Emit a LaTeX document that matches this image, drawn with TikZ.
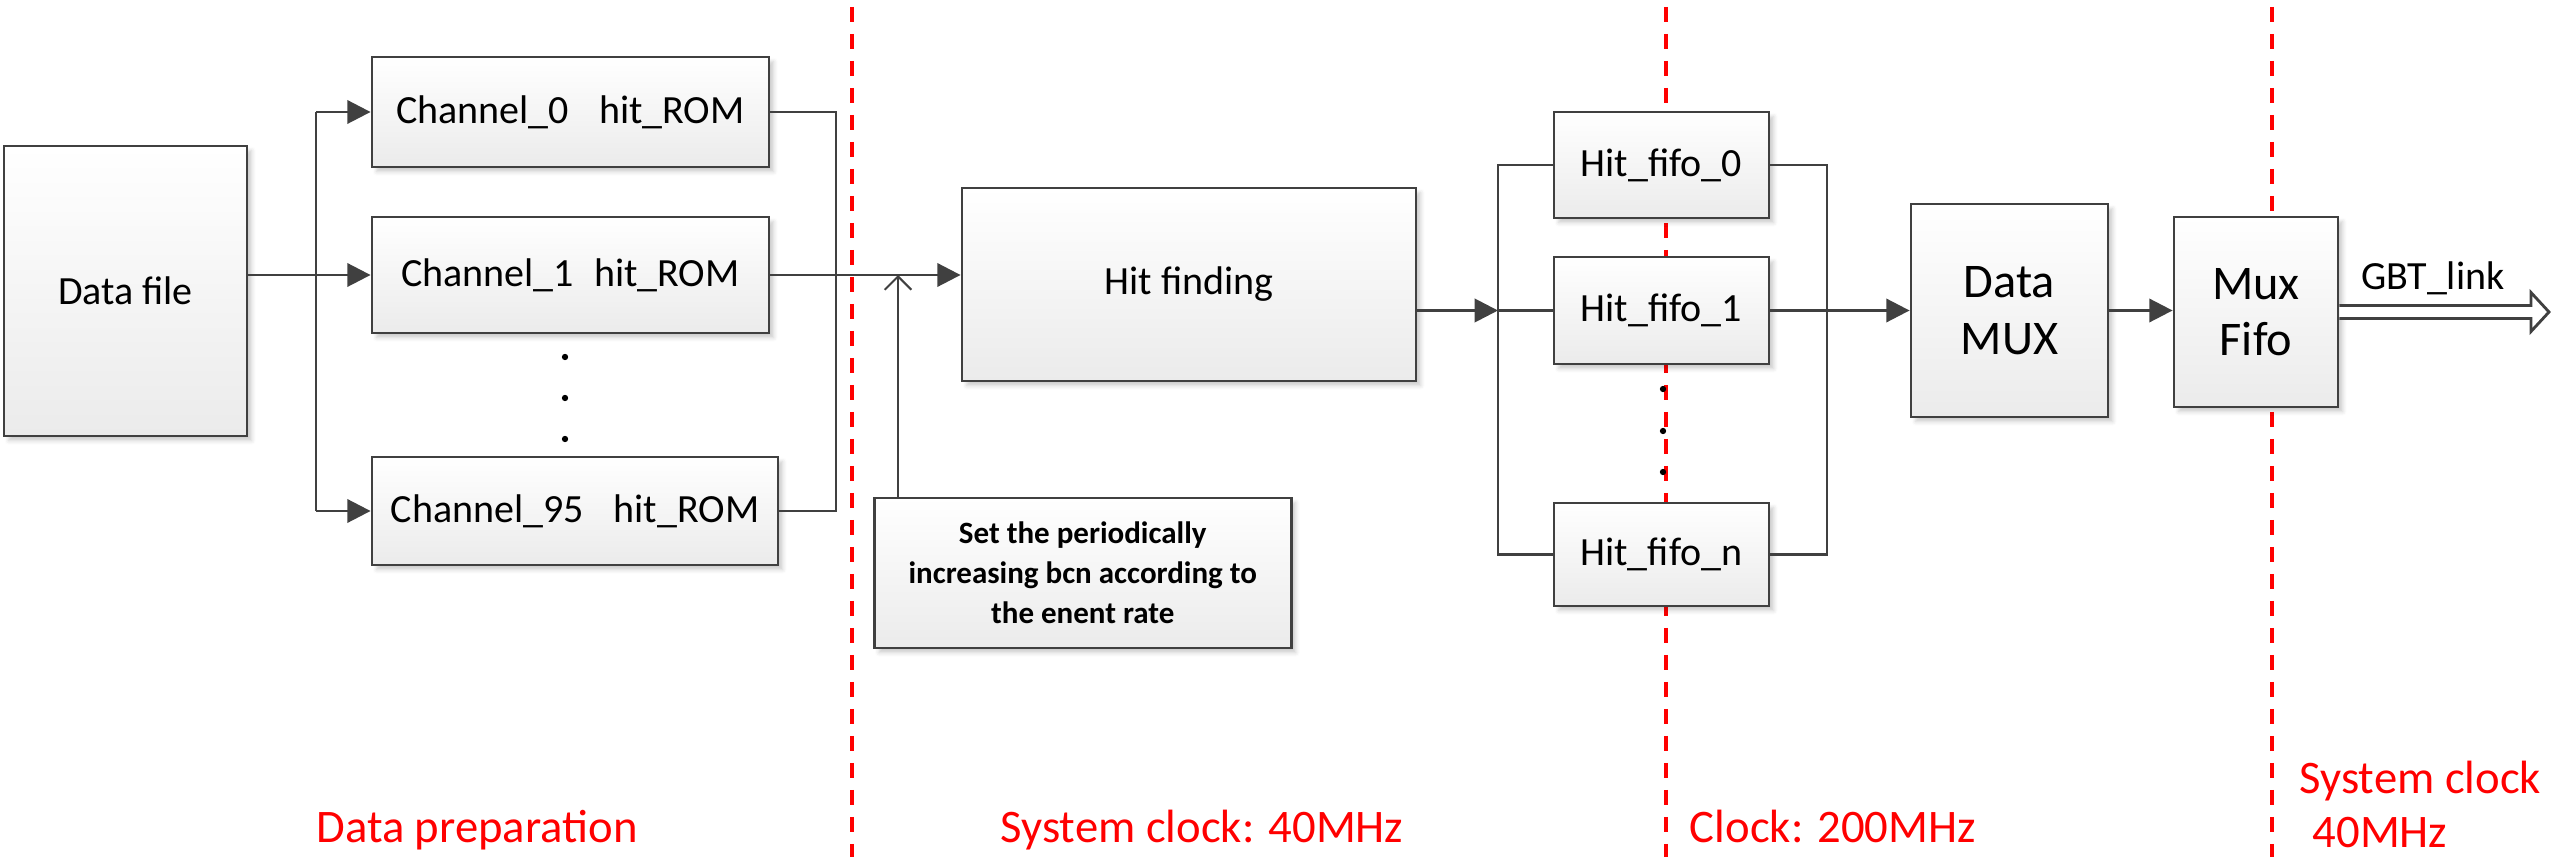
\documentclass[tikz,border=0pt]{standalone}
\usepackage{fontspec}
\setmainfont{Carlito}
\usetikzlibrary{arrows.meta,shadows.blur,calc}
\definecolor{edge}{HTML}{404040}
\definecolor{boxbottom}{HTML}{EBEBEB}
\definecolor{zone}{HTML}{FF0000}

\begin{document}
\begin{tikzpicture}[x=0.3pt,y=-0.3pt,
  block/.style={draw=edge, line width=0.85pt, top color=white, bottom color=boxbottom,
    inner sep=0pt, align=center, font=\fontsize{12}{14}\selectfont,
    blur shadow={shadow xshift=1.4pt, shadow yshift=-1.4pt, shadow blur radius=1.2pt, shadow opacity=20}},
  bigtext/.style={font=\fontsize{14.5}{17}\selectfont},
  wire/.style={draw=edge, line width=0.85pt},
  arr/.style={wire, -{Triangle[length=7pt,width=7pt]}},
  openarr/.style={draw=edge, line width=0.6pt, -{Straight Barb[length=4pt,width=8pt,line width=0.6pt]}},
  sep/.style={draw=zone, line width=1.2pt, dash pattern=on 4.65pt off 3.45pt},
  zonelabel/.style={text=zone, font=\fontsize{14}{16}\selectfont, inner sep=0pt},
  gbt/.style={draw=edge, line width=0.85pt, fill=white, line join=miter},
  dot/.style={fill=black}
]
\useasboundingbox (0,0) rectangle (2552,857);

% clock-domain separators
\draw[sep] (852,7) -- (852,857);
\draw[sep] (1666,7) -- (1666,857);
\draw[sep] (2272,7) -- (2272,857);

% blocks
\node[block, minimum width=72.9pt, minimum height=87pt] (df) at (125.5,291) {Data file};
\node[block, minimum width=119.1pt, minimum height=33pt] (c0) at (570.5,112) {Channel\_0\hspace{0.75em}hit\_ROM};
\node[block, minimum width=119.1pt, minimum height=34.8pt] (c1) at (570.5,275) {Channel\_1\hspace{0.5em}hit\_ROM};
\node[block, minimum width=121.8pt, minimum height=32.4pt] (c95) at (575,511) {Channel\_95\hspace{0.75em}hit\_ROM};
\node[block, minimum width=136.2pt, minimum height=57.9pt] (hf) at (1189,284.5) {Hit finding};
\node[block, minimum width=125pt, minimum height=45pt,
      font=\fontsize{9.3}{12}\selectfont\bfseries] (sb) at (1082.75,573)
      {Set the periodically\\increasing bcn according to\\the enent rate};
\node[block, minimum width=64.5pt, minimum height=31.8pt] (f0) at (1661.5,165) {Hit\_fifo\_0};
\node[block, minimum width=64.5pt, minimum height=32.1pt] (f1) at (1661.5,310.5) {Hit\_fifo\_1};
\node[block, minimum width=64.5pt, minimum height=30.9pt] (fn) at (1661.5,554.5) {Hit\_fifo\_n};
\node[block, bigtext, minimum width=59.1pt, minimum height=63.9pt] (dm) at (2009.5,310.5) {Data\\MUX};
\node[block, bigtext, minimum width=49.2pt, minimum height=57pt] (mf) at (2256,312) {Mux\\Fifo};

% ellipsis dots
\foreach \yy in {357,398,439} \fill[dot] (565,\yy) circle (0.95pt);
\foreach \yy in {389,431,472} \fill[dot] (1663,\yy) circle (0.95pt);

% bus positions
\coordinate (lb) at (316,0);
\coordinate (rb) at (836,0);
\coordinate (lf) at (1498,0);
\coordinate (rf) at (1827,0);
\coordinate (tap) at ([xshift=7.5pt]sb.north west);

% data file to channel ROMs
\draw[wire] (lb |- c0) -- (lb |- c95);
\draw[arr] (df.east |- c1) -- (c1.west);
\draw[arr] (lb |- c0) -- (c0.west);
\draw[arr] (lb |- c95) -- (c95.west);

% channel ROMs to hit finding
\draw[wire] (c0.east) -- (rb |- c0) -- (rb |- c95) -- (c95.east);
\draw[arr] (c1.east) -- (hf.west |- c1);
\draw[openarr] (tap) -- (tap |- c1);

% hit finding to the fifos
\draw[arr] (hf.east |- f1) -- (lf |- f1);
\draw[wire] (f0.west) -- (lf |- f0) -- (lf |- fn) -- (fn.west);
\draw[wire] (lf |- f1) -- (f1.west);
\draw[wire] (f0.east) -- (rf |- f0) -- (rf |- fn) -- (fn.east);
\draw[wire] (f1.east) -- (rf |- f1);
\draw[arr] (rf |- f1) -- (dm.west);
\draw[arr] (dm.east) -- (dm.east -| mf.west);

% output link
\coordinate (hb) at (2531,312);
\coordinate (gend) at (2549,312);
\draw[gbt] ($(mf.east)+(0,-6.5)$) -- ($(hb)+(0,-6.5)$) -- ($(hb)+(0,-19.5)$) -- (gend)
  -- ($(hb)+(0,19.5)$) -- ($(hb)+(0,6.5)$) -- ($(mf.east)+(0,6.5)$);
\node[anchor=base, inner sep=0pt, font=\fontsize{12}{14}\selectfont] (gl) at (2433,290) {GBT\_link};

% clock-domain labels
\node[zonelabel, anchor=base] (z1) at (477,842) {Data preparation};
\node[zonelabel, anchor=base] (z2) at (1202,842) {System clock: 40MHz};
\node[zonelabel, anchor=base] (z3) at (1833,842) {Clock: 200MHz};
\node[zonelabel, anchor=base west] (z4) at (2299,793) {System clock};
\node[zonelabel, anchor=base west] (z5) at (2312,847) {40MHz};
\end{tikzpicture}
\end{document}
